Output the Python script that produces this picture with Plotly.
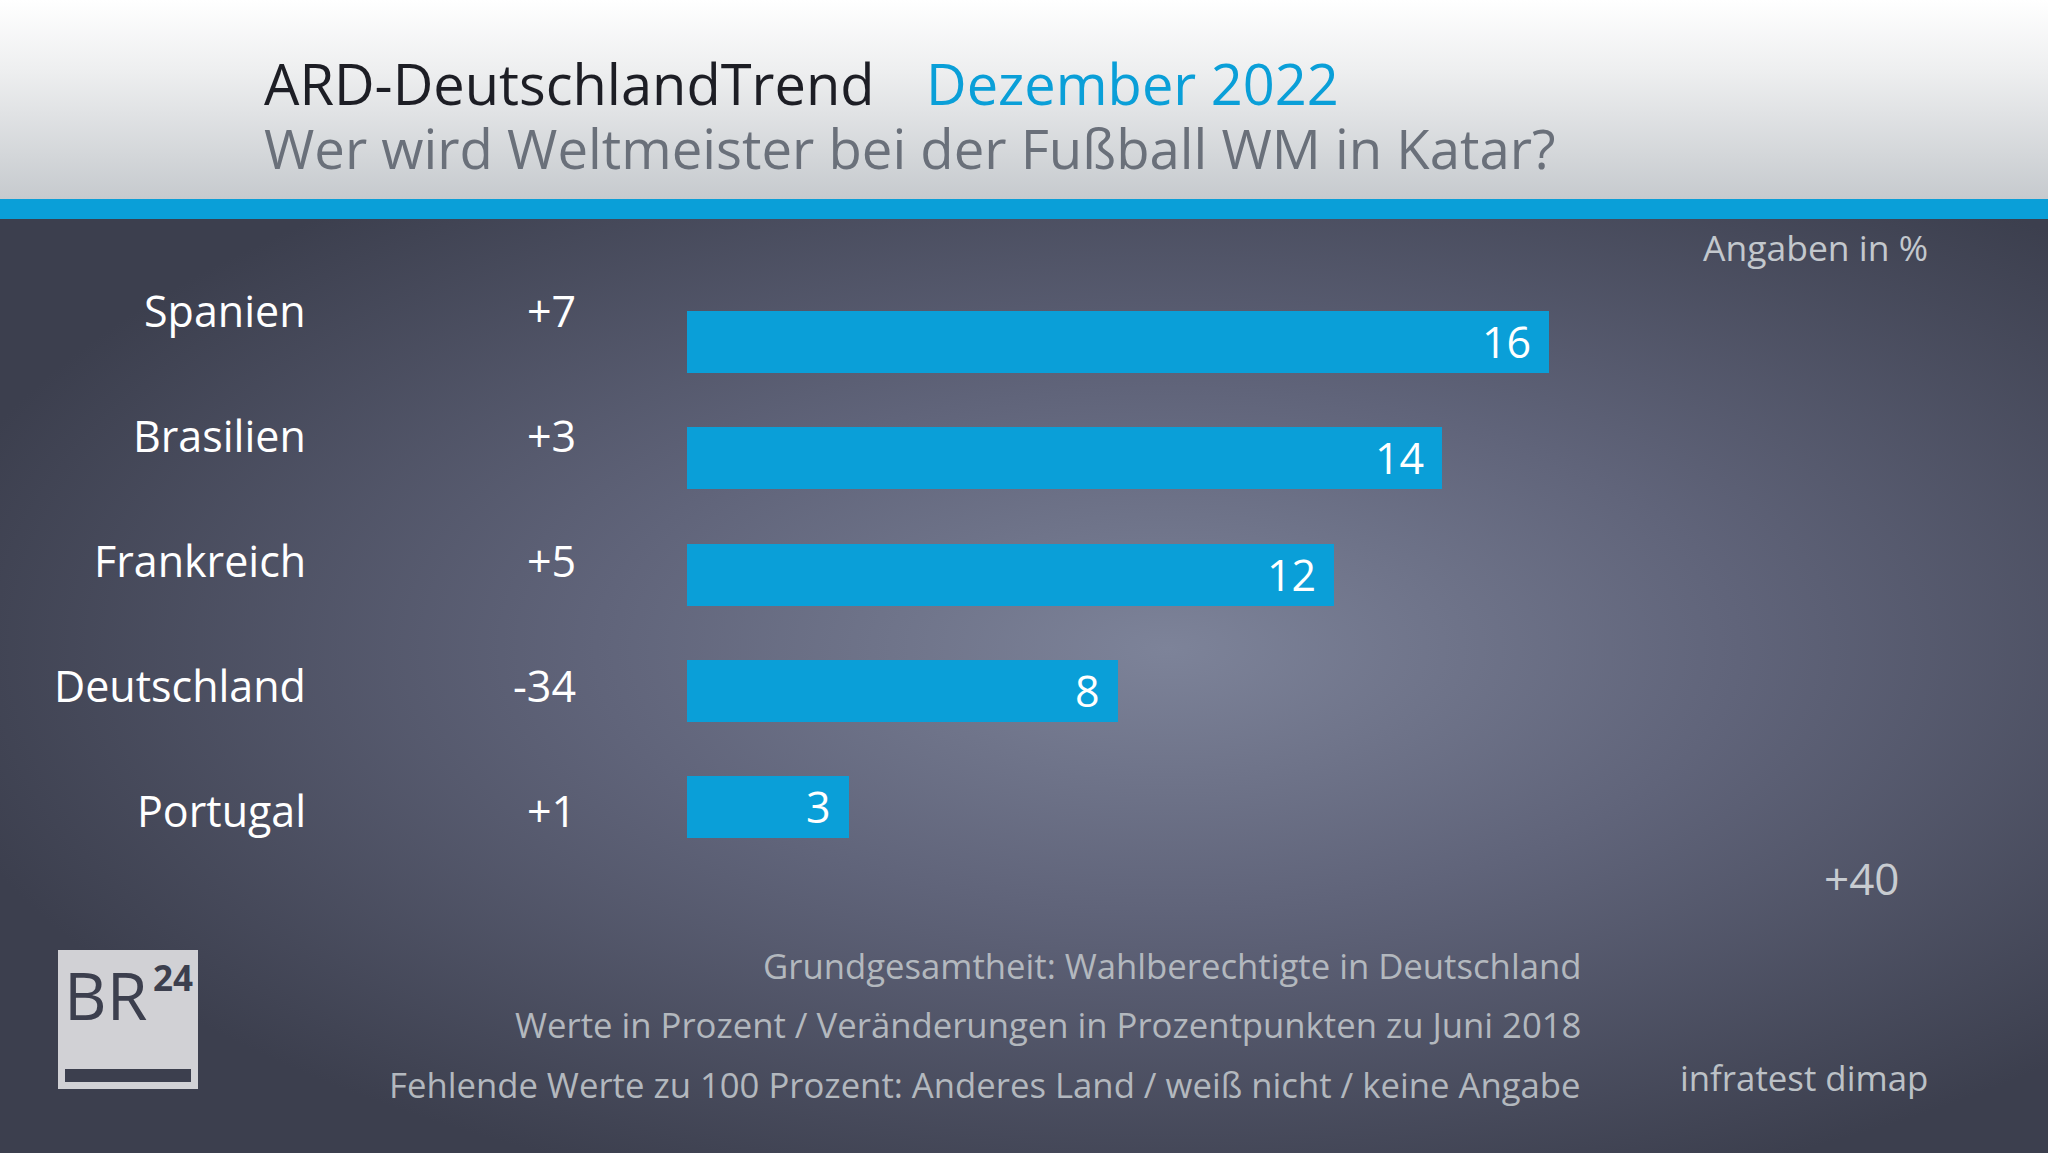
import base64
import plotly.graph_objects as go

# ---------------- data ----------------
countries = ["Spanien", "Brasilien", "Frankreich", "Deutschland", "Portugal"]
values = [16, 14, 12, 8, 3]
changes = ["+7", "+3", "+5", "-34", "+1"]

title_main = "ARD-DeutschlandTrend"
title_date = "Dezember 2022"
subtitle = "Wer wird Weltmeister bei der Fußball WM in Katar?"
unit_note = "Angaben in %"
side_note = "+40"
source = "infratest dimap"
footer_lines = [
    "Grundgesamtheit: Wahlberechtigte in Deutschland",
    "Werte in Prozent / Veränderungen in Prozentpunkten zu Juni 2018",
    "Fehlende Werte zu 100 Prozent: Anderes Land / weiß nicht / keine Angabe",
]

W, H = 2048, 1153
FONT = "Open Sans"
BLUE = "#0a9fd8"


def px(x):
    return x / W


def py(y):
    return 1 - y / H


def svg_uri(svg):
    return "data:image/svg+xml;base64," + base64.b64encode(svg.encode("utf-8")).decode("ascii")


bg_svg = (
    "<svg xmlns='http://www.w3.org/2000/svg' width='2048' height='934' viewBox='0 0 2048 934' preserveAspectRatio='none'>"
    "<defs><radialGradient id='g' cx='0.57' cy='0.46' r='0.62' fx='0.57' fy='0.46'>"
    "<stop offset='0' stop-color='#7d8399'/>"
    "<stop offset='0.45' stop-color='#60647a'/>"
    "<stop offset='1' stop-color='#3c3f4e'/>"
    "</radialGradient></defs>"
    "<rect width='2048' height='934' fill='url(#g)'/></svg>"
)
head_svg = (
    "<svg xmlns='http://www.w3.org/2000/svg' width='2048' height='199' viewBox='0 0 2048 199' preserveAspectRatio='none'>"
    "<defs><linearGradient id='h' x1='0' y1='0' x2='0' y2='1'>"
    "<stop offset='0' stop-color='#ffffff'/>"
    "<stop offset='0.35' stop-color='#eeeff0'/>"
    "<stop offset='1' stop-color='#c6cace'/>"
    "</linearGradient></defs>"
    "<rect width='2048' height='199' fill='url(#h)'/></svg>"
)

fig = go.Figure()

fig.add_trace(go.Bar(
    x=values, y=countries, orientation="h",
    marker=dict(color=BLUE, line=dict(width=0)),
    width=0.533, hoverinfo="skip", showlegend=False,
    xaxis="x", yaxis="y",
))
# invisible helper trace so the label axis exists
fig.add_trace(go.Scatter(
    x=[0] * len(countries), y=countries, mode="markers",
    marker=dict(opacity=0), hoverinfo="skip", showlegend=False,
    xaxis="x", yaxis="y2",
))

annotations = []
# values inside bars
for c, v in zip(countries, values):
    annotations.append(dict(
        x=v, y=c, xref="x", yref="y", text=str(v), showarrow=False,
        xanchor="right", yanchor="middle", xshift=-16, yshift=1,
        font=dict(family=FONT, size=43, color="#ffffff"),
    ))
# country names and changes
for c, ch in zip(countries, changes):
    annotations.append(dict(
        x=px(308), y=c, xref="paper", yref="y2", text=c, showarrow=False,
        xanchor="right", yanchor="middle", yshift=2,
        font=dict(family=FONT, size=43, color="#ffffff"),
    ))
    annotations.append(dict(
        x=px(578), y=c, xref="paper", yref="y2", text=ch, showarrow=False,
        xanchor="right", yanchor="middle", yshift=2,
        font=dict(family=FONT, size=43, color="#ffffff"),
    ))

# header texts
annotations.append(dict(
    x=px(262), y=py(83), xref="paper", yref="paper", showarrow=False,
    xanchor="left", yanchor="middle", text=title_main, height=60,
    font=dict(family=FONT, size=56, color="#1d1e25"),
))
annotations.append(dict(
    x=px(924), y=py(83), xref="paper", yref="paper", showarrow=False,
    xanchor="left", yanchor="middle", text=title_date, height=60,
    font=dict(family=FONT, size=56, color=BLUE),
))
annotations.append(dict(
    x=px(262), y=py(148), xref="paper", yref="paper", showarrow=False,
    xanchor="left", yanchor="middle", text=subtitle, height=60,
    font=dict(family=FONT, size=54.5, color="#6a707a"),
))
annotations.append(dict(
    x=px(1930), y=py(247), xref="paper", yref="paper", showarrow=False,
    xanchor="right", yanchor="middle", text=unit_note,
    font=dict(family=FONT, size=35.5, color="#c3c8cd"),
))
annotations.append(dict(
    x=px(1901), y=py(878), xref="paper", yref="paper", showarrow=False,
    xanchor="right", yanchor="middle", text=side_note,
    font=dict(family=FONT, size=44, color="#c8ccd1"),
))
annotations.append(dict(
    x=px(1930), y=py(1077), xref="paper", yref="paper", showarrow=False,
    xanchor="right", yanchor="middle", text=source,
    font=dict(family=FONT, size=34.8, color="#bcc1c6"),
))
for i, line in enumerate(footer_lines):
    annotations.append(dict(
        x=px(1583), y=py(965 + 59.5 * i), xref="paper", yref="paper", showarrow=False,
        xanchor="right", yanchor="middle", text=line,
        font=dict(family=FONT, size=34.7, color="#b3b8be"),
    ))

# logo texts
annotations.append(dict(
    x=px(62), y=py(994), xref="paper", yref="paper", showarrow=False,
    xanchor="left", yanchor="middle", text="BR",
    font=dict(family=FONT, size=66, color="#3c3f4e"),
))
annotations.append(dict(
    x=px(195), y=py(977), xref="paper", yref="paper", showarrow=False,
    xanchor="right", yanchor="middle", text="<b>24</b>",
    font=dict(family=FONT, size=35, color="#3c3f4e"),
))

shapes = [
    dict(type="rect", xref="paper", yref="paper", x0=0, x1=1, y0=py(219), y1=py(199),
         fillcolor=BLUE, line=dict(width=0), layer="below"),
    dict(type="rect", xref="paper", yref="paper", x0=px(58), x1=px(198), y0=py(1089), y1=py(950),
         fillcolor="#d1d1d5", line=dict(width=0), layer="below"),
    dict(type="rect", xref="paper", yref="paper", x0=px(65), x1=px(191), y0=py(1082), y1=py(1069),
         fillcolor="#3c3f4e", line=dict(width=0), layer="below"),
]

images = [
    dict(source=svg_uri(bg_svg), xref="paper", yref="paper", x=0, y=py(219),
         sizex=1, sizey=934 / H, sizing="stretch", xanchor="left", yanchor="top", layer="below"),
    dict(source=svg_uri(head_svg), xref="paper", yref="paper", x=0, y=1,
         sizex=1, sizey=199 / H, sizing="stretch", xanchor="left", yanchor="top", layer="below"),
]

unit_px = 53.9
x0_px = 687
x_max = 25
n = len(countries)

fig.update_layout(
    width=W, height=H,
    margin=dict(l=0, r=0, t=0, b=0),
    paper_bgcolor="#3c3f4e",
    plot_bgcolor="rgba(0,0,0,0)",
    xaxis=dict(domain=[px(x0_px), px(x0_px + unit_px * x_max)], range=[0, x_max],
               visible=False, fixedrange=True),
    yaxis=dict(domain=[py(865.6), py(284.4)], type="category", categoryorder="array",
               categoryarray=countries, range=[n - 0.5, -0.5], autorange=False,
               visible=False, fixedrange=True),
    yaxis2=dict(domain=[py(874.5), py(249.5)], type="category", categoryorder="array",
                categoryarray=countries, range=[n - 0.5, -0.5], autorange=False,
                visible=False, fixedrange=True, anchor="x"),
    annotations=annotations,
    shapes=shapes,
    images=images,
    showlegend=False,
    bargap=0,
)

fig.write_html("out.html", config={"displayModeBar": False})
